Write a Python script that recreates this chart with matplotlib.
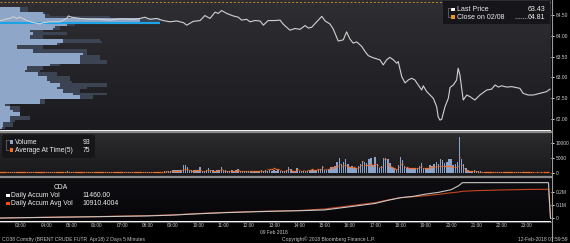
import numpy as np
import matplotlib
matplotlib.use('Agg')
import matplotlib.pyplot as plt
from matplotlib.patches import Rectangle, FancyBboxPatch
from matplotlib.colors import LinearSegmentedColormap
from matplotlib.lines import Line2D
from matplotlib.transforms import Affine2D

plt.rcParams['font.family'] = ['Liberation Sans', 'DejaVu Sans']

W, H = 570, 243

# ---- data ----
# last price, hours of 09 Feb 2018
price_hours = [2.17, 2.30, 2.43, 2.57, 2.70, 2.83, 2.96, 3.23, 3.49, 3.75, 3.88, 4.15, 4.54,
               4.81, 4.87, 5.00, 5.33, 5.72, 6.12, 6.52, 6.91, 7.44, 7.70, 7.90, 8.10, 8.36,
               8.62, 8.89, 9.15, 9.42, 9.55, 9.81, 10.08, 10.27, 10.47, 10.67, 10.80, 10.93,
               11.13, 11.39, 11.59, 11.72, 11.92, 12.05, 12.25, 12.45, 12.58, 12.77, 13.04,
               13.24, 13.37, 13.63, 13.83, 14.03, 14.23, 14.36, 14.49, 14.89, 15.02, 15.21,
               15.34, 15.54, 15.74, 15.87, 16.00, 16.13, 16.27, 16.47, 16.60, 16.73, 16.92,
               17.19, 17.32, 17.45, 17.58, 17.72, 17.85, 17.91, 18.05, 18.18, 18.31, 18.44,
               18.57, 18.70, 18.84, 18.90, 19.04, 19.17, 19.30, 19.43, 19.49, 19.56, 19.63,
               19.76, 19.89, 19.96, 20.09, 20.22, 20.28, 20.35, 20.48, 20.62, 20.75, 20.94,
               21.14, 21.41, 21.60, 21.74, 21.87, 22.00, 22.20, 22.40, 22.72, 22.85, 23.05,
               23.25, 23.51, 23.77, 23.91]
price_vals = [64.36, 64.37, 64.40, 64.41, 64.45, 64.41, 64.44, 64.36, 64.31, 64.28, 64.31, 64.33,
              64.33, 64.41, 64.47, 64.44, 64.41, 64.39, 64.39, 64.37, 64.40, 64.39, 64.41, 64.44,
              64.39, 64.41, 64.36, 64.33, 64.35, 64.31, 64.25, 64.34, 64.36, 64.48, 64.41, 64.56,
              64.53, 64.60, 64.53, 64.47, 64.44, 64.37, 64.39, 64.33, 64.36, 64.35, 64.25, 64.36,
              64.36, 64.37, 64.27, 64.13, 64.17, 64.15, 64.24, 64.18, 64.20, 64.46, 64.35, 64.28,
              64.16, 63.87, 63.90, 64.09, 63.92, 63.82, 63.85, 63.74, 63.62, 63.52, 63.47, 63.42,
              63.30, 63.42, 63.48, 63.42, 63.34, 63.38, 63.02, 62.87, 62.94, 62.98, 62.94, 62.82,
              62.70, 62.80, 62.66, 62.58, 62.50, 62.30, 62.06, 61.98, 62.00, 62.30, 62.50, 62.76,
              62.82, 62.94, 63.22, 63.06, 62.46, 62.58, 62.54, 62.46, 62.58, 62.70, 62.72, 62.82,
              62.77, 62.80, 62.77, 62.78, 62.74, 62.62, 62.58, 62.58, 62.62, 62.66, 62.72]
close_prev = 64.81

# volume at price profile (contracts), bins from 64.65 down to 61.80
profile_prices = np.linspace(64.65, 61.80, 58)
profile_light = [1000, 1000, 2150, 2250, 2250, 7000, 7000, 7000, 3350, 2750, 2650, 1500, 1650,
                 1500, 1500, 3150, 3150, 2850, 850, 850, 1650, 1650, 4150, 4000, 4000, 4000,
                 4000, 2500, 1350, 1350, 1250, 1900, 1900, 2350, 2350, 2500, 3000, 3000, 2850,
                 3150, 3150, 3650, 4000, 4000, 2000, 2000, 250, 500, 500, 650, 1000, 1000, 500,
                 500, 500, 150, 150, 100]
profile_dark = [1400, 1400, 2250, 2500, 5500, 8000, 8000, 8000, 3750, 3000, 3000, 2150, 3350,
                2150, 2150, 5000, 5100, 3000, 2150, 2150, 4350, 4350, 4350, 5000, 5000, 5350,
                5350, 3000, 2150, 2150, 2000, 2850, 2850, 3500, 3500, 3600, 5350, 5350, 4350,
                4000, 4000, 5350, 4650, 4650, 2250, 2250, 500, 1000, 1000, 1000, 1000, 1000,
                1500, 1500, 750, 650, 650, 250]
profile_mark_price = 64.31
profile_mark_size = 8000

# 5 minute volume bars, 02:10 .. 23:50
volume = [
    150, 250, 200, 300, 150, 200, 250, 300, 200, 250,                            # 02
    200, 300, 250, 150, 200, 300, 250, 200, 350, 250, 200, 300,                  # 03
    250, 200, 300, 350, 200, 250, 300, 200, 250, 300, 600, 250,                  # 04
    300, 250, 200, 300, 350, 250, 300, 200, 250, 350, 300, 250,                  # 05
    250, 300, 200, 250, 300, 350, 250, 300, 200, 250, 300, 250,                  # 06
    300, 250, 350, 300, 250, 200, 300, 350, 250, 300, 250, 300,                  # 07
    250, 300, 350, 300, 250, 400, 300, 350, 500, 550, 500, 600,                  # 08
    900, 900, 800, 900, 900, 2500, 2500, 2000, 900, 900, 1000, 900,              # 09
    1000, 1800, 700, 700, 900, 1500, 800, 800, 700, 800, 900, 1800,              # 10
    800, 800, 700, 700, 800, 700, 800, 1200, 600, 500, 500, 500,                 # 11
    500, 500, 400, 500, 600, 700, 800, 700, 800, 700, 800, 700,                  # 12
    800, 700, 800, 700, 600, 700, 900, 2000, 1200, 700, 600, 1600,               # 13
    700, 600, 700, 600, 700, 1000, 1000, 1000, 900, 1000, 1100, 2200,            # 14
    900, 900, 1100, 1900, 1900, 2300, 3700, 5150, 3100, 3700, 4500, 2800,        # 15
    2000, 2300, 1500, 1500, 2400, 3100, 3900, 3700, 3400, 4600, 5150, 2600,      # 16
    5500, 3100, 1700, 2300, 5150, 5150, 4800, 3300, 1900, 1500, 1300, 2600,      # 17
    5500, 4200, 2300, 1700, 1500, 1500, 1500, 1500, 1500, 2300, 3300, 1700,      # 18
    1700, 1700, 2600, 2300, 3100, 3700, 2800, 4800, 4200, 3300, 3700, 4500,      # 19
    4500, 2600, 3100, 3700, 12300, 4800, 3100, 1700, 900, 700, 700, 800,         # 20
    700, 600, 500, 400, 300, 300, 200, 300, 200, 300, 200, 200,                  # 21
    200, 200, 100, 200, 200, 100, 200, 150, 100, 200, 100, 100,                  # 22
    100, 100, 50, 100, 50, 100, 50, 100, 50, 50, 100,                            # 23
]
avg_at_time = [
    200, 250, 250, 300, 200, 250, 300, 250, 250, 300,
    250, 300, 250, 250, 300, 250, 300, 250, 300, 250, 300, 300,
    300, 250, 300, 300, 250, 300, 300, 250, 300, 300, 350, 300,
    300, 300, 250, 300, 300, 300, 300, 250, 300, 300, 300, 300,
    300, 300, 250, 300, 300, 300, 300, 300, 250, 300, 300, 300,
    300, 300, 300, 300, 300, 250, 300, 300, 300, 300, 300, 300,
    300, 300, 300, 300, 300, 350, 300, 350, 400, 450, 400, 450,
    600, 700, 700, 700, 800, 1200, 1300, 1100, 800, 700, 700, 800,
    800, 1000, 700, 700, 800, 900, 800, 700, 700, 700, 800, 1100,
    700, 700, 600, 700, 700, 600, 700, 900, 600, 500, 500, 500,
    500, 500, 500, 500, 600, 700, 700, 700, 700, 1200, 1400, 1300,
    1500, 1200, 1400, 900, 600, 700, 800, 1300, 1000, 700, 600, 1100,
    800, 700, 800, 700, 900, 1000, 1100, 1000, 1000, 1100, 1200, 2000,
    1100, 1200, 1300, 2000, 1700, 2000, 2400, 2800, 2400, 2600, 2500, 2300,
    1900, 2000, 1800, 1700, 2000, 2500, 3900, 2600, 2600, 2700, 2800, 2300,
    3000, 2600, 1900, 2100, 4800, 4600, 3000, 2400, 1800, 1500, 1300, 2000,
    3000, 2900, 2000, 1800, 1600, 1500, 1500, 1500, 1500, 1900, 2200, 1700,
    1600, 1700, 1900, 1900, 2000, 2200, 2200, 2400, 2400, 2300, 2300, 2400,
    2300, 2000, 2100, 2200, 5400, 2600, 1500, 1000, 700, 600, 600, 500,
    500, 400, 400, 350, 350, 300, 300, 300, 300, 300, 300, 300,
    300, 300, 300, 300, 300, 300, 300, 300, 300, 300, 300, 300,
    300, 300, 300, 250, 300, 300, 300, 250, 300, 300, 300,
]
vol_times = 2 + 10 / 60 + np.arange(len(volume)) * 5 / 60

# daily accumulated volume
acc_hours = [2.17, 4, 6, 8, 9, 10, 11, 12, 13, 14, 15, 16, 17, 17.5, 18, 18.5, 19, 19.5,
             20, 20.3, 20.45, 21, 22, 23, 23.85, 23.93]
acc_vol = [2e3, 7e3, 12e3, 18e3, 24e3, 34e3, 42e3, 48e3, 53e3, 57e3, 63e3, 87e3, 112e3,
           135e3, 155e3, 165e3, 182e3, 195e3, 215e3, 245e3, 268e3, 268e3, 268e3, 268e3,
           268e3, 0]
acc_avg = [2e3, 8e3, 13e3, 20e3, 26e3, 36e3, 44e3, 50e3, 55e3, 59e3, 70e3, 94e3, 118e3,
           138e3, 155e3, 162e3, 170e3, 180e3, 192e3, 198e3, 203e3, 208e3, 213e3, 217e3,
           218e3, 12e3]

hour_ticks = list(range(3, 24))
x_range = (2.17, 23.95)

# ---- figure ----
fig = plt.figure(figsize=(W / 100, H / 100), dpi=100, facecolor='black')
pxT = Affine2D().scale(1, -1).translate(0, H)   # pixel coords, y downward


def px_rect(x0, y0, x1, y1):
    return [x0 / W, 1 - y1 / H, (x1 - x0) / W, (y1 - y0) / H]


def gradient(ax, top, bottom):
    cmap = LinearSegmentedColormap.from_list('g', [bottom, top])
    ax.imshow(np.linspace(0, 1, 64).reshape(-1, 1), cmap=cmap, origin='lower',
              extent=[0, 1, 0, 1], transform=ax.transAxes, aspect='auto',
              zorder=-5, interpolation='bilinear')


def right_ticks(ax, ticks, labels):
    ax.yaxis.tick_right()
    ax.set_yticks(ticks)
    ax.set_yticklabels(labels)
    ax.tick_params(axis='y', direction='out', length=2, width=0.7, color='#e0e0e0',
                   labelsize=3.5, labelcolor='#d0d0d0', pad=1.5)
    ax.tick_params(axis='x', bottom=False, labelbottom=False, top=False, labeltop=False)
    for s in ax.spines.values():
        s.set_visible(False)


# price panel: profile on the base axes, price line on a twin
ax_p = fig.add_axes(px_rect(0, 0, 551, 130.5))
gradient(ax_p, '#2f2f33', '#1b1b1f')
ax_p.barh(profile_prices, profile_dark, height=0.05, left=0, color='#3c4453', lw=0)
ax_p.barh(profile_prices, profile_light, height=0.05, left=0, color='#8ea6c8', lw=0)
ax_p.hlines(profile_mark_price, 0, profile_mark_size, color='#1ca2e6', lw=1.5)
ax_p.set_xlim(0, 551 * 50)
ax_p.set_ylim(61.732, 64.851)
right_ticks(ax_p, [62.0, 62.5, 63.0, 63.5, 64.0, 64.5],
            ['62.00', '62.50', '63.00', '63.50', '64.00', '64.50'])

ax_l = ax_p.twiny()
ax_l.patch.set_visible(False)
ax_l.plot(price_hours, price_vals, color='#d2d2d2', lw=0.8)
ax_l.axhline(close_prev, color='#c8862a', lw=0.7, ls=(0, (2, 2)))
ax_l.set_xlim(*x_range)
ax_l.set_ylim(61.732, 64.851)
ax_l.axis('off')

# volume panel
ax_v = fig.add_axes(px_rect(0, 132.5, 551, 176))
gradient(ax_v, '#2c2c2f', '#19191b')
ax_v.bar(vol_times, volume, width=0.058, color='#8aa3ca', lw=0)
ax_v.hlines(avg_at_time, vol_times - 0.03, vol_times + 0.03, color='#ff6a1a', lw=0.9)
ax_v.set_xlim(*x_range)
ax_v.set_ylim(-1120, 13670)
right_ticks(ax_v, [0, 5000, 10000], ['0', '5000', '10000'])

# accumulated volume panel
ax_a = fig.add_axes(px_rect(0, 178, 551, 221.5))
gradient(ax_a, '#0e0e12', '#07070a')
ax_a.plot(acc_hours, acc_avg, color='#c4461c', lw=0.8)
ax_a.plot(acc_hours, acc_vol, color='#c8c8c8', lw=0.8)
ax_a.set_xlim(*x_range)
ax_a.set_ylim(-24000, 303000)
right_ticks(ax_a, [0, 100000, 200000], ['0', '0.1M', '0.2M'])
ax_a.tick_params(axis='x', bottom=True, labelbottom=True, length=0, labelsize=3.4,
                 labelcolor='#c8c8c8', pad=1.2)
ax_a.set_xticks(hour_ticks)
ax_a.set_xticklabels([f'{h:02d}:00' for h in hour_ticks])

# separators and frame lines
for y, c, lw in [(131.5, '#8c8c8c', 1.6), (177.0, '#8c8c8c', 1.6), (221.8, '#5c5c5c', 0.8)]:
    fig.add_artist(Line2D([0, 551], [y, y], transform=pxT, color=c, lw=lw))
fig.add_artist(Line2D([551.5, 551.5], [0, 241], transform=pxT, color='#9a9a9a', lw=0.8))


def ftext(x, y, s, **kw):
    kw.setdefault('color', '#eeeeee')
    kw.setdefault('va', 'center')
    fig.text(x, y, s, transform=pxT, **kw)


def fsquare(x, y, color, size=3.6):
    fig.add_artist(Rectangle((x, y - size / 2), size, size, transform=pxT,
                             facecolor=color, edgecolor='none'))


# price legend
fig.add_artist(Rectangle((443, 0.5), 107, 23, transform=pxT, facecolor='#16161a',
                         edgecolor='none'))
fig.add_artist(Line2D([448, 448, 450.5], [7.5, 17, 17], transform=pxT, color='#8a8a8a', lw=0.4))
fig.add_artist(Line2D([448, 450.5], [7.5, 7.5], transform=pxT, color='#8a8a8a', lw=0.4))
fsquare(451.3, 9.3, '#ffffff')
fsquare(451.3, 17.2, '#f0961e')
ftext(457, 9.3, 'Last Price', fontsize=5)
ftext(545.5, 9.3, '63.43', fontsize=5, ha='right')
ftext(457, 17.2, 'Close on 02/08', fontsize=5)
fig.add_artist(Line2D([515, 527], [17.5, 17.5], transform=pxT, color='#bdbdbd', lw=0.5,
                      ls=(0, (1.5, 1.2))))
ftext(545.5, 17.2, '64.81', fontsize=5, ha='right')

# volume legend
fig.add_artist(FancyBboxPatch((2, 134.5), 93, 23.5, transform=pxT,
                              boxstyle='round,pad=0,rounding_size=2.5',
                              facecolor='#161618', edgecolor='none'))
fig.add_artist(Line2D([6, 6, 8.5], [140, 150, 150], transform=pxT, color='#8a8a8a', lw=0.4))
fig.add_artist(Line2D([6, 8.5], [140, 140], transform=pxT, color='#8a8a8a', lw=0.4))
fsquare(9.5, 142, '#8ea6c8')
fsquare(9.5, 150, '#ff6a1a')
ftext(15, 142, 'Volume', fontsize=4.9)
ftext(90, 142, '93', fontsize=4.9, ha='right')
ftext(15, 150, 'Average At Time(5)', fontsize=4.9)
ftext(90, 150, '75', fontsize=4.9, ha='right')

# accumulated volume legend
ftext(61, 187.3, 'CDA', fontsize=4.9, ha='center')
fsquare(6, 195.7, '#ffffff')
fsquare(6, 203.7, '#ff4a10')
ftext(11.3, 195.7, 'Daily Accum Vol', fontsize=4.9)
ftext(82, 195.7, '11460.00', fontsize=4.9)
ftext(11.3, 203.7, 'Daily Accum Avg Vol', fontsize=4.9)
ftext(82, 203.7, '10910.4004', fontsize=4.9)

# footer
ftext(274, 232.7, '09 Feb 2018', fontsize=3.5, ha='center', color='#c8c8c8')
ftext(2, 239.5, 'CO38 Comdty (BRENT CRUDE FUTR  Apr18) 2 Days 5 Minutes', fontsize=3.6,
      color='#c4c4c4')
ftext(282, 239.5, 'Copyright\u00a9 2018 Bloomberg Finance L.P.', fontsize=3.6, color='#c4c4c4')
ftext(568, 239.5, '12-Feb-2018 07:59:59', fontsize=3.6, ha='right', color='#c4c4c4')

fig.savefig('out.png', dpi=100, facecolor='black')
